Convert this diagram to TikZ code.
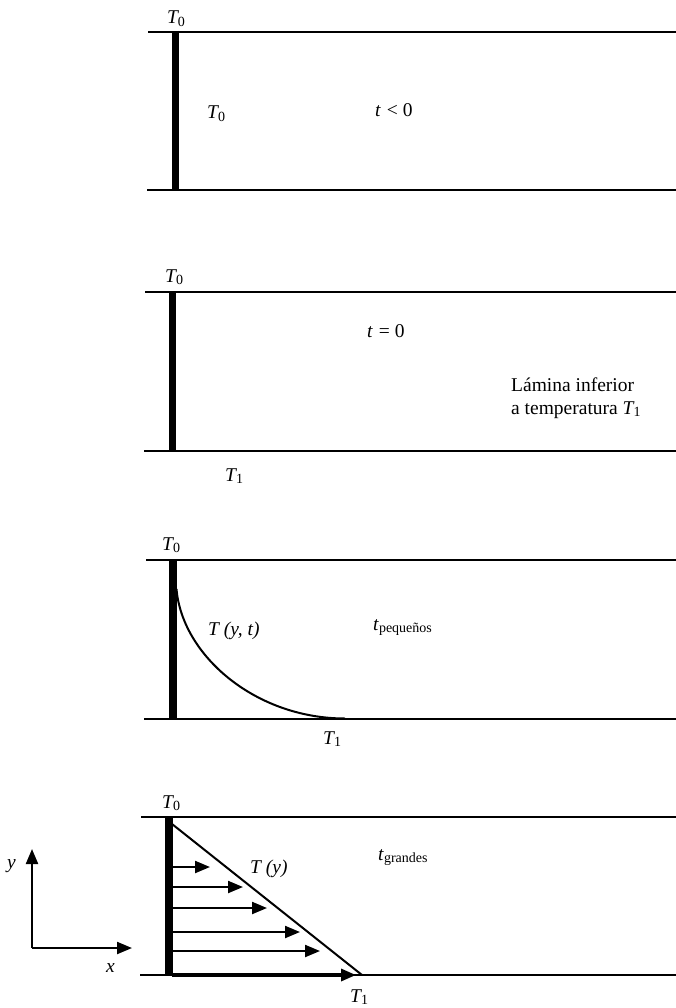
\documentclass[tikz,border=0pt]{standalone}
\usepackage{fontspec}
\setmainfont{Liberation Serif}
\usetikzlibrary{arrows.meta}
\newcommand\sbs[1]{\raisebox{-0.14em}{\fontsize{14}{14}\selectfont #1}}
\newcommand\Tz{\textit{T}\kern-1.2pt\sbs{0}}
\newcommand\To{\textit{T}\kern-1.2pt\sbs{1}}
\begin{document}
\begin{tikzpicture}[x=1pt,y=-1pt,
  lbl/.style={inner sep=0pt, anchor=base west, font=\fontsize{19.5}{22}\selectfont},
  wall/.style={line width=2.6pt},
  bar/.style={line width=7.3pt},
  prof/.style={line width=2pt},
  arr/.style={line width=2.2pt,-{Triangle[length=15pt,width=12pt]}}]
\useasboundingbox (0,0) rectangle (675,1008);
% ---------- panel 1 ----------
\draw[wall] (148,32) -- (680,32);
\draw[wall] (147,190) -- (680,190);
\draw[bar] (175.5,31) -- (175.5,190);
\node[lbl] (p1T0) at (167,24) {\Tz};
\node[lbl] (p1T0i) at (207,119) {\Tz};
\node[lbl] (p1t) at (375,117) {\textit{t}\kern1pt\ <\ 0};
% ---------- panel 2 ----------
\draw[wall] (145,292) -- (680,292);
\draw[wall] (144,451) -- (680,451);
\draw[bar] (172.5,291) -- (172.5,451);
\node[lbl] (p2T0) at (165,282) {\Tz};
\node[lbl] (p2t) at (367,337) {\textit{t}\kern1pt\ =\ 0};
\node[lbl] (p2l1) at (511,391) {Lámina inferior};
\node[lbl] (p2l2) at (511,414) {a temperatura \To};
\node[lbl] (p2T1) at (225,481) {\To};
% ---------- panel 3 ----------
\draw[wall] (146,560) -- (680,560);
\draw[wall] (144,719) -- (680,719);
\draw[bar] (173,559) -- (173,719);
\coordinate (c0) at (176.5,589);
\coordinate (c1) at (345,718.5);
\draw[prof] (c0) .. controls (182,655) and (255,718.5) .. (c1);
\node[lbl] (p3T0) at (162,550) {\Tz};
\node[lbl] (p3T) at (208,635) {\textit{T (y, t)}};
\node[lbl] (p3t) at (373,630) {\textit{t}\sbs{pequeños}};
\node[lbl] (p3T1) at (323,744) {\To};
% ---------- panel 4 ----------
\draw[wall] (141,817) -- (680,817);
\draw[wall] (140,975) -- (680,975);
\draw[bar] (169,816) -- (169,976);
\coordinate (d0) at (172,824);
\coordinate (d1) at (362,975);
\draw[prof] (d0) -- (d1);
\foreach \yy/\xx [count=\i] in {867/210,887/243,908/267,932/300,951/320}{
  \coordinate (a\i s) at (172,\yy);
  \coordinate (a\i e) at (\xx,\yy);
  \draw[arr] (a\i s) -- (a\i e);
}
\coordinate (a6s) at (172,975);
\coordinate (a6e) at (356,975);
\draw[arr,line width=3.2pt] (a6s) -- (a6e);
\node[lbl] (p4T0) at (162,808) {\Tz};
\node[lbl] (p4T) at (250,873) {\textit{T (y)}};
\node[lbl] (p4t) at (378,860) {\textit{t}\sbs{grandes}};
\node[lbl] (p4T1) at (350,1002) {\To};
% axes
\coordinate (o) at (32,948);
\coordinate (ya) at (32,849);
\coordinate (xa) at (132,948);
\draw[arr] (o) -- (ya);
\draw[arr] (o) -- (xa);
\node[lbl] (ylab) at (7,868) {\textit{y}};
\node[lbl] (xlab) at (106,972) {\textit{x}};
\end{tikzpicture}
\end{document}
